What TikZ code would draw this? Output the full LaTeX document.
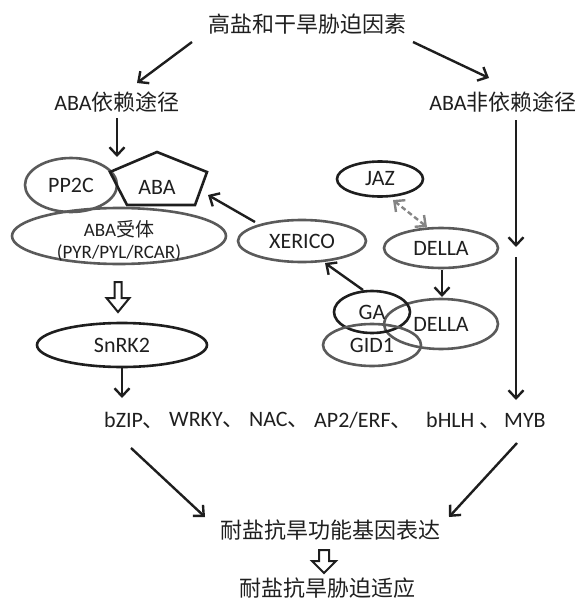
\documentclass[tikz,border=0pt]{standalone}
\usepackage{fontspec}
\setmainfont{Carlito}
\newfontfamily\cjk{Noto Sans CJK SC}
\usetikzlibrary{arrows.meta,shapes.geometric}
\definecolor{ovalgray}{HTML}{5A5A5A}
\definecolor{ink}{HTML}{1E1E1E}
\definecolor{dashgray}{HTML}{858585}
\begin{document}
\begin{tikzpicture}[x=1pt,y=-1pt,line width=2.4pt,
  >={Straight Barb[length=8pt,width=15pt]},
  txt/.style={inner sep=0pt,text=black!88,font=\fontsize{22}{26}\selectfont},
  smalltxt/.style={inner sep=0pt,text=black!88,font=\fontsize{19}{23}\selectfont},
  goval/.style={ellipse,draw=ovalgray,line width=2.6pt,inner sep=0pt,text=black!88,font=\fontsize{22}{26}\selectfont},
  boval/.style={ellipse,draw=ink,line width=2.6pt,inner sep=0pt,text=black!88,font=\fontsize{22}{26}\selectfont},
  arr/.style={->,draw=ink},
  dasharr/.style={<->,draw=dashgray,dash pattern=on 5pt off 3pt},
  hollow/.style={draw=ink,line width=2pt,line join=miter}]
\useasboundingbox (0,0) rectangle (578,602);

% texts
\node[txt] (title) at (307,24) {\cjk 高盐和干旱胁迫因素};
\node[txt] (abadep) at (117,102) {ABA{\cjk 依赖途径}};
\node[txt] (abanon) at (503,102) {ABA{\cjk 非依赖途径}};

% ABA receptor complex
\node[goval,minimum width=92,minimum height=54] (pp2c) at (71,185) {PP2C};
\draw[ink,line width=2.6pt,line join=miter] (157,152) -- (207,172) -- (195,205) -- (127,205) -- (110,172) -- cycle;
\node[txt] (aba) at (157,187) {ABA};
\node[goval,minimum width=214,minimum height=56] (rec) at (119,236) {};
\node[smalltxt] (rec1) at (119,229) {ABA{\cjk 受体}};
\node[smalltxt] (rec2) at (119,253) {(PYR/PYL/RCAR)};
\node[boval,minimum width=170,minimum height=44] (snrk) at (122,345) {SnRK2};

% GA / DELLA part
\node[goval,minimum width=128,minimum height=42] (xerico) at (302,241) {XERICO};
\node[boval,minimum width=86,minimum height=35] (jaz) at (380,179) {JAZ};
\node[goval,minimum width=114,minimum height=40] (della1) at (441,248) {DELLA};
\node[goval,minimum width=114,minimum height=50] (della2) at (441,324) {DELLA};
\node[boval,minimum width=76,minimum height=42] (ga) at (372,312) {GA};
\node[goval,minimum width=98,minimum height=42] (gid1) at (372,345) {GID1};

% transcription factor row
\node[txt,anchor=west] (bzip) at (103,420) {bZIP{\cjk 、}};
\node[txt,anchor=west] (wrky) at (168,420) {WRKY{\cjk 、}};
\node[txt,anchor=west] (nac) at (248,420) {NAC{\cjk 、}};
\node[txt,anchor=west] (ap2) at (313,420) {AP2/ERF{\cjk 、}};
\node[txt,anchor=west] (bhlh) at (425,420) {bHLH {\cjk 、}};
\node[txt,anchor=west] (myb) at (503,420) {MYB};

\node[txt] (expr) at (330,530) {\cjk 耐盐抗旱功能基因表达};
\node[txt] (adapt) at (327,588) {\cjk 耐盐抗旱胁迫适应};

% arrow end points
\coordinate (a1s) at (192,42);  \coordinate (a1e) at (137,83);
\coordinate (a2s) at (413,42);  \coordinate (a2e) at (489,78);
\coordinate (d1s) at (117,118); \coordinate (d1e) at (117,157);
\coordinate (r1s) at (516,120); \coordinate (r1e) at (516,247);
\coordinate (r2s) at (516,257); \coordinate (r2e) at (516,400);
\coordinate (xs) at (255,222);  \coordinate (abatip) at (208,195);
\coordinate (gs) at (363,290);  \coordinate (xe) at (325,263);
\coordinate (js) at (393,200);  \coordinate (de) at (427,227);
\coordinate (ds) at (442,270);  \coordinate (dde) at (442,297);
\coordinate (ss) at (122,367);  \coordinate (se) at (122,398);
\coordinate (b1s) at (131,448); \coordinate (b1e) at (205,517);
\coordinate (b2s) at (517,443); \coordinate (b2e) at (449,517);

\draw[arr] (a1s) -- (a1e);
\draw[arr] (a2s) -- (a2e);
\draw[arr] (d1s) -- (d1e);
\draw[arr] (r1s) -- (r1e);
\draw[arr] (r2s) -- (r2e);
\draw[arr] (xs) -- (abatip);
\draw[arr] (gs) -- (xe);
\draw[dasharr] (js) -- (de);
\draw[arr] (ds) -- (dde);
\draw[arr] (ss) -- (se);
\draw[arr] (b1s) -- (b1e);
\draw[arr] (b2s) -- (b2e);

% hollow block arrows
\draw[hollow] (114.5,282) -- (114.5,298) -- (106.5,298) -- (118,312) -- (129.5,298) -- (121.5,298) -- (121.5,282) -- cycle;
\draw[hollow] (319,550) -- (319,561) -- (312,561) -- (324,573) -- (336,561) -- (329,561) -- (329,550) -- cycle;
\end{tikzpicture}
\end{document}
